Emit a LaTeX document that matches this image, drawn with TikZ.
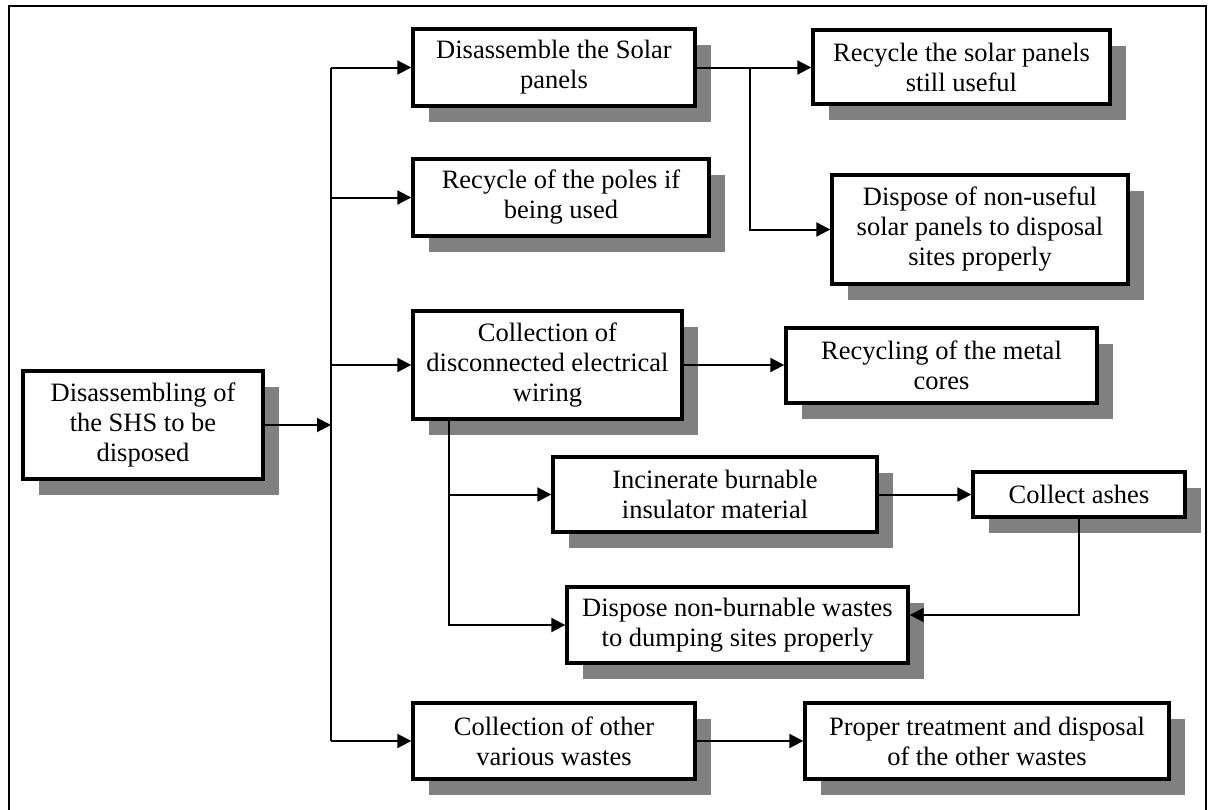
\documentclass[tikz,border=0pt]{standalone}
\usepackage{fontspec}
\setmainfont{Liberation Serif}
\usetikzlibrary{arrows.meta,shadows,calc}
\definecolor{shadowgray}{HTML}{808080}
\begin{document}
\begin{tikzpicture}[x=1pt,y=-1pt,
  box/.style={draw=black, line width=3.4pt, fill=white, rectangle, align=center,
    inner sep=2pt, font=\fontsize{26.5}{30}\selectfont,
    drop shadow={shadow xshift=16pt, shadow yshift=-16pt, opacity=1, fill=shadowgray}},
  link/.style={line width=2pt},
  arr/.style={link, -{Triangle[length=14pt,width=14pt]}},
  frame/.style={line width=1.8pt}]
\useasboundingbox (0,0) rectangle (1208,809);

% outer frame (bottom edge runs off the page)
\draw[frame] (9,840) -- (9,6) -- (1206,6) -- (1206,840);

% process boxes
\node[box, minimum width=240, minimum height=108] (A) at (143,425) {Disassembling of\\the SHS to be\\disposed};
\node[box, minimum width=282, minimum height=77]  (B) at (554,67.5) {Disassemble the Solar\\panels};
\node[box, minimum width=297, minimum height=74]  (C) at (961.5,67) {Recycle the solar panels\\still useful};
\node[box, minimum width=296, minimum height=77]  (D) at (561,197.5) {Recycle of the poles if\\being used};
\node[box, minimum width=296, minimum height=109] (E) at (980,229.5) {Dispose of non-useful\\solar panels to disposal\\sites properly};
\node[box, minimum width=269, minimum height=108] (F) at (547.5,365) {Collection of\\disconnected electrical\\wiring};
\node[box, minimum width=311, minimum height=75]  (G) at (941.5,365.5) {Recycling of the metal\\cores};
\node[box, minimum width=324, minimum height=75]  (H) at (715,494.5) {Incinerate burnable\\insulator material};
\node[box, minimum width=212, minimum height=45]  (I) at (1079,494.5) {Collect ashes};
\node[box, minimum width=341, minimum height=76]  (J) at (737.5,625) {Dispose non-burnable wastes\\to dumping sites properly};
\node[box, minimum width=282, minimum height=76]  (K) at (554,741) {Collection of other\\various wastes};
\node[box, minimum width=364, minimum height=76]  (L) at (987,741) {Proper treatment and disposal\\of the other wastes};

% branch lines
\coordinate (trunk) at (331,0);
\coordinate (solarbranch) at (750,0);
\coordinate (wirebranch) at (449,0);

\draw[link] (B.west -| trunk) -- (K.west -| trunk);
\draw[arr] (A.east) -- (A.east -| trunk);
\draw[arr] (B.west -| trunk) -- (B.west);
\draw[arr] (D.west -| trunk) -- (D.west);
\draw[arr] (F.west -| trunk) -- (F.west);
\draw[arr] (K.west -| trunk) -- (K.west);

\draw[arr] (B.east) -- (B.east -| C.west);
\draw[arr] (B.east -| solarbranch) |- (E.west);

\draw[arr] (F.east) -- (F.east -| G.west);
\draw[arr] (F.south -| wirebranch) |- (H.west);
\draw[arr] (F.south -| wirebranch) |- (J.west);
\draw[arr] (H.east) -- (I.west);
\draw[arr] (I.south) |- ($(J.east)+(0,-10)$);

\draw[arr] (K.east) -- (L.west);
\end{tikzpicture}
\end{document}
